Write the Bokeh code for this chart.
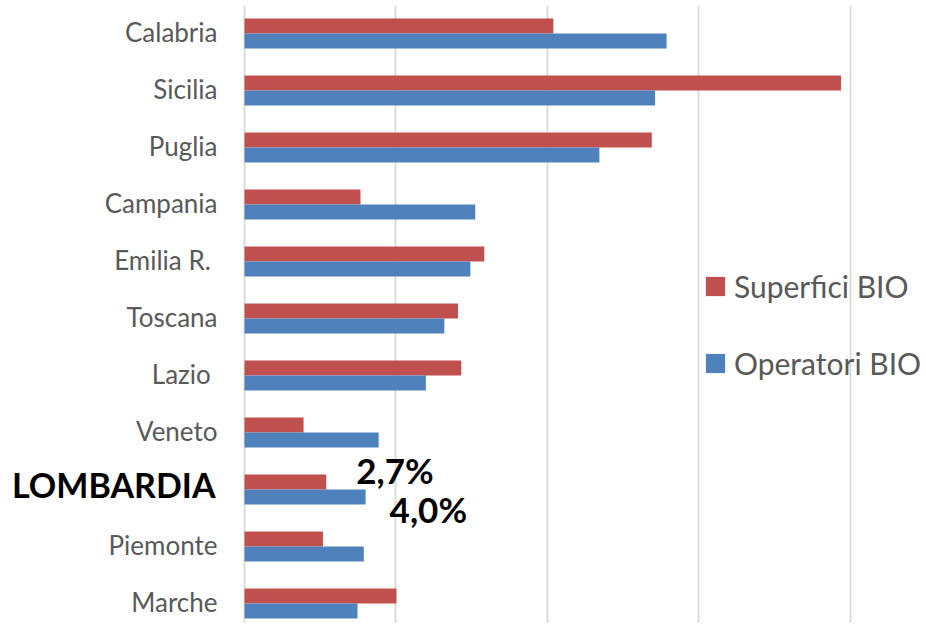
from bokeh.plotting import figure
from bokeh.models import Range1d, Label, Legend, LegendItem, ColumnDataSource, FixedTicker
from bokeh.core.properties import value
from bokeh.transform import dodge
from bokeh.embed import file_html
from bokeh.resources import INLINE

categories = ["Calabria", "Sicilia", "Puglia", "Campania", "Emilia R. ", "Toscana",
              "Lazio ", "Veneto", "LOMBARDIA", "Piemonte", "Marche"]
superfici_bio = [10.2, 19.7, 13.45, 3.83, 7.92, 7.05, 7.16, 1.95, 2.7, 2.59, 5.02]
operatori_bio = [13.94, 13.56, 11.72, 7.62, 7.46, 6.60, 5.99, 4.43, 4.0, 3.94, 3.73]
highlight = "LOMBARDIA"
highlight_labels = ["2,7%", "4,0%"]
grid_ticks = [0, 5, 10, 15, 20]

n = len(categories)
ypos = [n - 1 - i for i in range(n)]
src = ColumnDataSource(dict(y=ypos, sup=superfici_bio, op=operatori_bio))

hi = categories.index(highlight)
normal_src = ColumnDataSource(dict(
    y=[y for y, c in zip(ypos, categories) if c != highlight],
    t=[c for c in categories if c != highlight]))
hl_src = ColumnDataSource(dict(y=[ypos[hi]], t=[highlight]))

RED = "#C0504D"
BLUE = "#4F81BD"
GREY = "#595959"
FONT = "Lato"

p = figure(width=924, height=623, output_backend="svg", toolbar_location=None,
           x_range=Range1d(-8.058, 22.457), y_range=Range1d(-0.351, 10.491),
           min_border_left=0, min_border_right=0, min_border_top=5, min_border_bottom=0)
p.outline_line_color = None
p.background_fill_color = "white"
p.xaxis.visible = False
p.yaxis.visible = False

bh = 0.263
r_sup = p.hbar(y=dodge("y", bh / 2), right="sup", left=0, height=bh, source=src,
               fill_color=RED, line_color=None)
r_op = p.hbar(y=dodge("y", -bh / 2), right="op", left=0, height=bh, source=src,
              fill_color=BLUE, line_color=None)

p.xgrid.ticker = FixedTicker(ticks=grid_ticks)
p.xgrid.grid_line_color = "#D9D9D9"
p.xgrid.grid_line_width = 1.8
p.ygrid.visible = False

# category labels
p.text(x=0, y="y", text="t", source=normal_src, x_offset=-27, y_offset=-1,
       text_align="right", text_baseline="middle", text_font=value(FONT),
       text_font_size="26px", text_color=GREY)
p.text(x=0, y="y", text="t", source=hl_src, x_offset=-29, y_offset=-5,
       text_align="right", text_baseline="middle", text_font=value(FONT),
       text_font_style="bold", text_font_size="34px", text_color="black")

hy = ypos[hi]
p.add_layout(Label(x=superfici_bio[hi], y=hy + bh / 2, x_offset=30, y_offset=12,
                   text=highlight_labels[0], text_align="left", text_baseline="middle",
                   text_font=FONT, text_font_style="bold", text_font_size="35px",
                   text_color="black"))
p.add_layout(Label(x=operatori_bio[hi], y=hy - bh / 2, x_offset=24, y_offset=-12,
                   text=highlight_labels[1], text_align="left", text_baseline="middle",
                   text_font=FONT, text_font_style="bold", text_font_size="35px",
                   text_color="black"))

legend = Legend(items=[LegendItem(label="Superfici BIO", renderers=[r_sup]),
                       LegendItem(label="Operatori BIO", renderers=[r_op])],
                location=(703, 240))
legend.border_line_color = None
legend.background_fill_alpha = 0
legend.padding = 0
legend.margin = 0
legend.glyph_width = 24
legend.glyph_height = 24
legend.label_height = 40
legend.spacing = 37
legend.label_standoff = 7
legend.label_text_font = FONT
legend.label_text_font_size = "30px"
legend.label_text_color = GREY
p.add_layout(legend)

open("out.html", "w").write(file_html(p, INLINE))
